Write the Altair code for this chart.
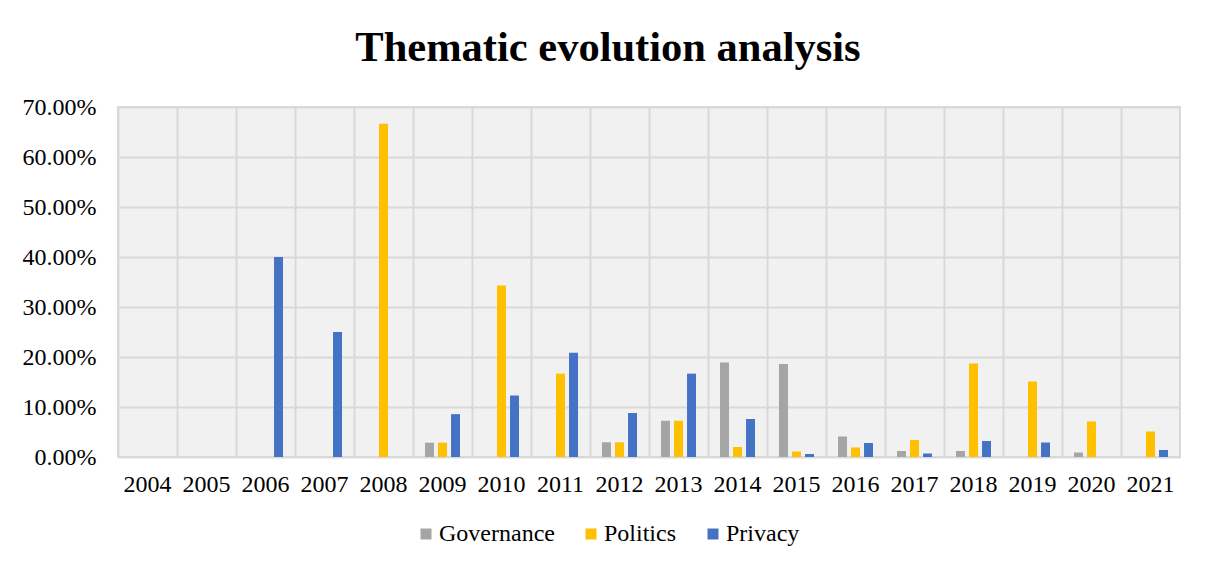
import altair as alt
import pandas as pd

years = [str(y) for y in range(2004, 2022)]
governance = [0, 0, 0, 0, 0, 0.0286, 0, 0, 0.0294, 0.0725, 0.189, 0.186, 0.041, 0.012, 0.012, 0, 0.009, 0]
politics = [0, 0, 0, 0, 0.6667, 0.0286, 0.3429, 0.1667, 0.0294, 0.0725, 0.020, 0.011, 0.019, 0.034, 0.187, 0.151, 0.071, 0.051]
privacy = [0, 0, 0.40, 0.25, 0, 0.0857, 0.123, 0.2083, 0.0882, 0.1667, 0.076, 0.006, 0.028, 0.007, 0.032, 0.029, 0, 0.014]

series = ["Governance", "Politics", "Privacy"]
colors = ["#A5A5A5", "#FFC000", "#4472C4"]

rows = []
for name, vals in zip(series, [governance, politics, privacy]):
    for y, v in zip(years, vals):
        rows.append({"year": y, "series": name, "value": v})
df = pd.DataFrame(rows)

font = "Liberation Serif"

chart = alt.Chart(df).mark_bar().encode(
    x=alt.X("year:N", sort=years, title=None,
            scale=alt.Scale(paddingInner=0, paddingOuter=0),
            axis=alt.Axis(labelAngle=0, labelFont=font, labelFontSize=24, labelColor="#000000",
                          labelPadding=15, ticks=False, domain=False, grid=True, bandPosition=0,
                          gridColor="#d9d9d9", gridWidth=2)),
    xOffset=alt.XOffset("series:N", sort=series,
                        scale=alt.Scale(paddingInner=0.31, paddingOuter=0.92)),
    y=alt.Y("value:Q", title=None,
            scale=alt.Scale(domain=[0, 0.7], nice=False),
            axis=alt.Axis(format=".2%", values=[0, 0.1, 0.2, 0.3, 0.4, 0.5, 0.6, 0.7],
                          labelFont=font, labelFontSize=24, labelColor="#000000",
                          labelPadding=22, ticks=False, domain=False,
                          gridColor="#d9d9d9", gridWidth=2)),
    color=alt.Color("series:N", sort=series, title=None,
                    scale=alt.Scale(domain=series, range=colors),
                    legend=alt.Legend(orient="none", direction="horizontal", legendX=296, legendY=415,
                                      symbolType="square", symbolSize=121, symbolStrokeWidth=0,
                                      labelFont=font, labelFontSize=24, labelColor="#000000",
                                      labelOffset=1, columnPadding=24)),
).properties(
    width=1062,
    height=350,
    title=alt.TitleParams("Thematic evolution analysis", font=font, fontSize=42.5, fontWeight="bold",
                          color="#000000", anchor="middle", dx=-41, offset=26),
    autosize=alt.AutoSizeParams(type="none"),
    padding={"left": 110, "top": 99, "right": 20, "bottom": 107},
).configure_view(
    fill="#f1f1f1", stroke="#d9d9d9", strokeWidth=2
)

chart.save("out.html", embed_options={"renderer": "svg", "actions": False})
